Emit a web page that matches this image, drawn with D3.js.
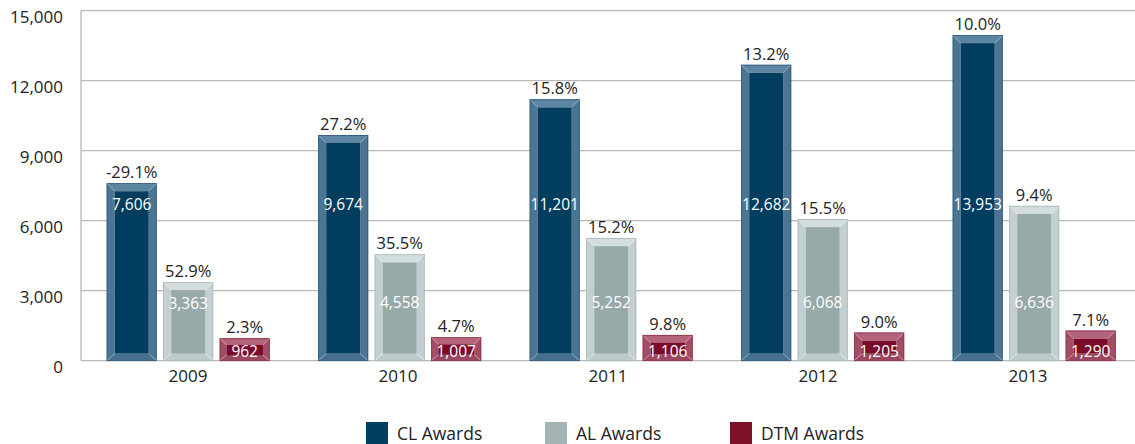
<!DOCTYPE html>
<html><head><meta charset="utf-8">
<script src="https://cdn.jsdelivr.net/npm/d3@7"></script>
<style>body{margin:0;background:#fff}svg{display:block;font-family:"Open Sans",sans-serif}</style>
</head><body><svg id="c" width="1135" height="444"></svg>
<script>
const years = ["2009","2010","2011","2012","2013"];
const seriesNames = ["CL Awards","AL Awards","DTM Awards"];
const clValues = [7606, 9674, 11201, 12682, 13953];
const alValues = [3363, 4558, 5252, 6068, 6636];
const dtmValues = [962, 1007, 1106, 1205, 1290];
const clGrowth = ["-29.1%","27.2%","15.8%","13.2%","10.0%"];
const alGrowth = ["52.9%","35.5%","15.2%","15.5%","9.4%"];
const dtmGrowth = ["2.3%","4.7%","9.8%","9.0%","7.1%"];
const yTicks = [0, 3000, 6000, 9000, 12000, 15000];

const palette = {
  "CL Awards":  {inner:"#003d5e", top:"#5d86a3", side:"#4b7592", bottom:"#46708d", line:"#8fb0c6", edge:"#2f5878", legend:"#003f62"},
  "AL Awards":  {inner:"#97a9a8", top:"#d4dddd", side:"#c3cfd0", bottom:"#bccaca", line:"#e8eeee", edge:"#a9b8b8", legend:"#a4b4b5"},
  "DTM Awards": {inner:"#7a0c2a", top:"#b3637a", side:"#a24d64", bottom:"#9b4760", line:"#d49aaa", edge:"#8a3049", legend:"#7b1128"}
};
const valuesBy = {"CL Awards":clValues,"AL Awards":alValues,"DTM Awards":dtmValues};
const growthBy = {"CL Awards":clGrowth,"AL Awards":alGrowth,"DTM Awards":dtmGrowth};

(function(){
const svg = d3.select("#c");
const pLeft = 81, pRight = 1135, pTop = 10.7, pBottom = 360.7;
const y = d3.scaleLinear().domain([0,15000]).range([pBottom, pTop]);
const x0 = d3.scaleBand().domain(years).range([83.2, 83.2 + 5*211.5]).padding(0);
const xLab = d3.scaleBand().domain(years).range([83, 1133]).padding(0);
const x1 = d3.scaleBand().domain(seriesNames).range([23.5, 186.5]).paddingInner(0.115).paddingOuter(0);

// gridlines
svg.append("g").selectAll("line").data(yTicks).join("line")
  .attr("x1", pLeft).attr("x2", pRight)
  .attr("y1", d => y(d)).attr("y2", d => y(d))
  .attr("stroke", "#b9b9b9").attr("stroke-width", 1.3);
svg.append("line").attr("x1", pLeft).attr("x2", pLeft).attr("y1", pTop).attr("y2", pBottom)
  .attr("stroke", "#b9b9b9").attr("stroke-width", 1.3);

// y axis labels
const yAxis = d3.axisLeft(y).tickValues(yTicks).tickFormat(d3.format(",")).tickSize(0).tickPadding(18);
const yg = svg.append("g").attr("transform", `translate(${pLeft},0)`).call(yAxis);
yg.select(".domain").remove();
yg.selectAll("text").attr("font-size", 17).attr("fill", "#222").attr("font-family", "'Open Sans',sans-serif").attr("dy", "0.72em");

// x axis labels
const xAxis = d3.axisBottom(xLab).tickSize(0).tickPadding(9);
const xg = svg.append("g").attr("transform", `translate(0,${pBottom})`).call(xAxis);
xg.select(".domain").remove();
xg.selectAll("text").attr("font-size", 17).attr("fill", "#222").attr("font-family", "'Open Sans',sans-serif");

// bars
const items = [];
years.forEach((yr, i) => seriesNames.forEach(s => items.push({yr, s, v: valuesBy[s][i], g: growthBy[s][i]})));

const bars = svg.append("g").selectAll("g").data(items).join("g");
bars.each(function(d){
  const g = d3.select(this);
  const c = palette[d.s];
  const bx = x0(d.yr) + x1(d.s), bw = x1.bandwidth();
  const by = y(d.v), bh = y(0) - y(d.v);
  const b = Math.min(8, bh * 0.3), bb = Math.min(7, bh*0.25);
  const X0 = bx, X1 = bx + bw, Y0 = by, Y1 = by + bh;
  const ix0 = X0 + b, ix1 = X1 - b, iy0 = Y0 + b, iy1 = Y1 - bb;
  const poly = pts => pts.map(p => p.join(",")).join(" ");
  g.append("polygon").attr("points", poly([[X0,Y0],[X1,Y0],[ix1,iy0],[ix0,iy0]])).attr("fill", c.top);
  g.append("polygon").attr("points", poly([[X0,Y0],[ix0,iy0],[ix0,iy1],[X0,Y1]])).attr("fill", c.side);
  g.append("polygon").attr("points", poly([[X1,Y0],[X1,Y1],[ix1,iy1],[ix1,iy0]])).attr("fill", c.side);
  g.append("polygon").attr("points", poly([[X0,Y1],[ix0,iy1],[ix1,iy1],[X1,Y1]])).attr("fill", c.bottom);
  g.append("rect").attr("x", ix0).attr("y", iy0).attr("width", ix1-ix0).attr("height", Math.max(0, iy1-iy0)).attr("fill", c.inner);
  [[X0,Y0,ix0,iy0],[X1,Y0,ix1,iy0],[X0,Y1,ix0,iy1],[X1,Y1,ix1,iy1]].forEach(l =>
    g.append("line").attr("x1", l[0]).attr("y1", l[1]).attr("x2", l[2]).attr("y2", l[3])
      .attr("stroke", c.line).attr("stroke-width", 0.8));
  g.append("rect").attr("x", X0+0.4).attr("y", Y0+0.4).attr("width", bw-0.8).attr("height", bh-0.4)
    .attr("fill", "none").attr("stroke", c.edge).attr("stroke-width", 0.8);

  g.append("text").attr("x", bx + bw/2).attr("y", by - 5).attr("text-anchor", "middle")
    .attr("font-size", 16.5).attr("fill", "#222").text(d.g);
  let ly;
  if (d.s === "CL Awards") ly = Math.max(by + 17, y(6700));
  else if (d.s === "AL Awards") ly = Math.max(by + 21, y(2480));
  else ly = y(0) - 9;
  g.append("text").attr("x", bx + bw/2).attr("y", ly).attr("dy", "0.35em").attr("text-anchor", "middle")
    .attr("font-size", 15.5).attr("fill", "#fff").text(d3.format(",")(d.v));
});

// legend
const legendX = [366, 545, 730];
const lg = svg.append("g").selectAll("g").data(seriesNames).join("g")
  .attr("transform", (d,i) => `translate(${legendX[i]},422)`);
lg.append("rect").attr("width", 22).attr("height", 22).attr("fill", d => palette[d].legend);
lg.append("text").attr("x", 31).attr("y", 12).attr("dy", "0.35em").attr("font-size", 17.5).attr("fill", "#222").text(d => d);
})();
</script></body></html>
